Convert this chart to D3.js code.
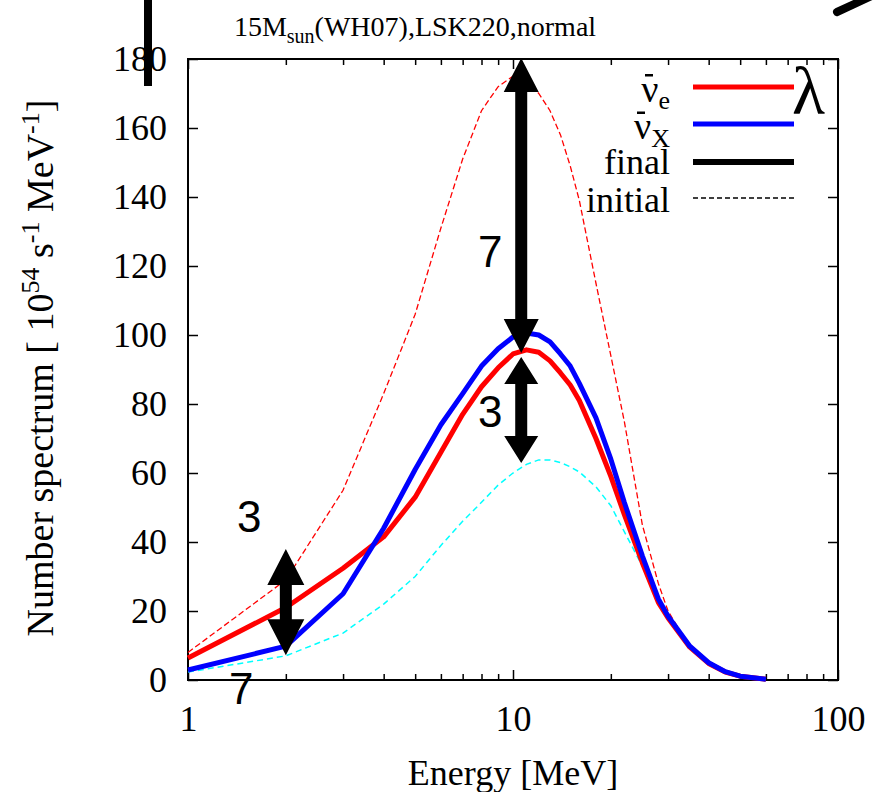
<!DOCTYPE html>
<html><head><meta charset="utf-8">
<script src="https://cdn.jsdelivr.net/npm/d3@7"></script>
<style>body{margin:0;background:#fff}svg{display:block}
.serif{font-family:"Liberation Serif","Times New Roman",serif}
.sans{font-family:"Liberation Sans",Arial,sans-serif}
</style>
</head><body>
<svg id="c" width="883" height="792"></svg>
<script>
// ---- data ----
const energy = [1,2,3,4,5,6,7,8,9,10,11,12,13,14,15,16,18,20,22,25,28,30,35,40,45,50,60];
const antiNueFinal   = [6.4,21,32.4,41.5,53,66,77,85,90.5,94.5,95.7,95,92.5,89,85.5,81,70,59,48,34,22.5,18,9.5,4.8,2.3,1.1,0.2];
const antiNuxFinal   = [2.9,9.8,25,44,61,74,83,91,96,99.4,100.6,100,98,94.5,91,86,76,64,51.5,36,23.5,18.5,9.8,5,2.4,1.1,0.2];
const antiNueInitial = [8,29,55,83,106,131,151,165,172,175,174,170,165,158,149,139,115,94,75,45,28,20,9.5,4.5,2.1,1,0.2];
const antiNuxInitial = [2.3,7,13.6,22,30,39,46,51.5,56.5,60,62.5,63.8,63.8,63,61.8,60.3,56,50.5,43,33,24,19,10,5,2.4,1.1,0.2];
const xMajorTicks = [1,10,100];
const yTicks = [0,20,40,60,80,100,120,140,160,180];
// annotation arrows (energy, from value, to value) and labels
const arrowE    = [10.6, 10.6, 2.0];
const arrowFrom = [180.3, 93.6, 38];
const arrowTo   = [94.8, 62.9, 7.2];
const noteText  = ["7","3","3","7"];

const svg = d3.select("#c");
const L=188, R=838, T=59, B=680;
const x = d3.scaleLog().domain([1,100]).range([L,R]);
const y = d3.scaleLinear().domain([0,180]).range([B,T]);

const minors = [];
[1,10].forEach(d=>{for(let k=2;k<=9;k++) minors.push(d*k);});

// axes
function styleAxis(g){ g.attr("font-family",null).attr("font-size",null);
  g.select(".domain").remove(); g.selectAll("line").attr("stroke","#000").attr("stroke-width",1.5); }
function styleLabels(sel){ sel.attr("class","serif").style("font-size","36px").attr("fill","#000"); }
svg.append("g").attr("transform",`translate(0,${B})`)
  .call(d3.axisBottom(x).tickValues(xMajorTicks).tickSize(-10).tickPadding(25).tickFormat(d3.format("d")))
  .call(styleAxis).selectAll("text").call(styleLabels);
svg.append("g").attr("transform",`translate(0,${B})`)
  .call(d3.axisBottom(x).tickValues(minors).tickSize(-6).tickFormat("")).call(styleAxis);
svg.append("g").attr("transform",`translate(0,${T})`)
  .call(d3.axisTop(x).tickValues(xMajorTicks).tickSize(-10).tickFormat("")).call(styleAxis);
svg.append("g").attr("transform",`translate(0,${T})`)
  .call(d3.axisTop(x).tickValues(minors).tickSize(-6).tickFormat("")).call(styleAxis);
svg.append("g").attr("transform",`translate(${L},0)`)
  .call(d3.axisLeft(y).tickValues(yTicks).tickSize(-10).tickPadding(21))
  .call(styleAxis).selectAll("text").call(styleLabels);
svg.append("g").attr("transform",`translate(${R},0)`)
  .call(d3.axisRight(y).tickValues(yTicks).tickSize(-10).tickFormat("")).call(styleAxis);

svg.append("rect").attr("x",L).attr("y",T).attr("width",R-L).attr("height",B-T)
  .attr("fill","none").attr("stroke","#000").attr("stroke-width",2);

// lines
const line = d3.line().x((d,i)=>x(energy[i])).y(d=>y(d));
svg.append("path").datum(antiNuxInitial).attr("d",line).attr("fill","none")
  .attr("stroke","#00ffff").attr("stroke-width",1.5).attr("stroke-dasharray","6,4");
svg.append("path").datum(antiNueInitial).attr("d",line).attr("fill","none")
  .attr("stroke","#ff0000").attr("stroke-width",1.3).attr("stroke-dasharray","6,3");
svg.append("path").datum(antiNueFinal).attr("d",line).attr("fill","none")
  .attr("stroke","#ff0000").attr("stroke-width",5).attr("stroke-linejoin","round");
svg.append("path").datum(antiNuxFinal).attr("d",line).attr("fill","none")
  .attr("stroke","#0000ff").attr("stroke-width",5).attr("stroke-linejoin","round");

// legend
const lg = svg.append("g");
const legY = [87,124,162,198];
const legStyle = [
  {c:"#ff0000",w:5,d:null},{c:"#0000ff",w:5,d:null},{c:"#000",w:6,d:null},{c:"#000",w:1.3,d:"5,3"}];
legStyle.forEach((s,i)=>{
  lg.append("line").attr("x1",693).attr("x2",794).attr("y1",legY[i]).attr("y2",legY[i])
    .attr("stroke",s.c).attr("stroke-width",s.w).attr("stroke-dasharray",s.d);
});
const t1 = lg.append("text").attr("x",670).attr("y",102).attr("text-anchor","end").attr("class","serif").style("font-size","38px");
t1.append("tspan").text("ν");
t1.append("tspan").style("font-size","26px").attr("dy",7).text("e");
lg.append("rect").attr("x",645).attr("y",74).attr("width",8).attr("height",2.5).attr("fill","#000");
const t2 = lg.append("text").attr("x",670).attr("y",139).attr("text-anchor","end").attr("class","serif").style("font-size","38px");
t2.append("tspan").text("ν");
t2.append("tspan").style("font-size","26px").attr("dy",8).text("X");
lg.append("rect").attr("x",637).attr("y",111.5).attr("width",8).attr("height",2.5).attr("fill","#000");
lg.append("text").attr("x",670).attr("y",174).attr("text-anchor","end").attr("class","serif").style("font-size","36px").text("final");
lg.append("text").attr("x",670).attr("y",212).attr("text-anchor","end").attr("class","serif").style("font-size","36px").text("initial");

// title
const tt = svg.append("text").attr("x",415).attr("y",36).attr("text-anchor","middle").attr("class","serif").style("font-size","28px");
tt.append("tspan").text("15M");
tt.append("tspan").style("font-size","20px").attr("dy",7).text("sun");
tt.append("tspan").attr("dy",-7).text("(WH07),LSK220,normal");

// axis titles
svg.append("text").attr("x",513).attr("y",785).attr("text-anchor","middle").attr("class","serif").style("font-size","36px").text("Energy [MeV]");
const yl = svg.append("text").attr("transform","translate(53,368) rotate(-90)").attr("text-anchor","middle")
  .attr("class","serif").style("font-size","38px");
yl.append("tspan").text("Number spectrum [ 10");
yl.append("tspan").style("font-size","26px").attr("dy",-14).text("54");
yl.append("tspan").attr("dy",14).text(" s");
yl.append("tspan").style("font-size","26px").attr("dy",-14).text("-1");
yl.append("tspan").attr("dy",14).text(" MeV");
yl.append("tspan").style("font-size","26px").attr("dy",-14).text("-1");
yl.append("tspan").attr("dy",14).text("]");

// arrows
function dblArrow(xc, y1, y2, hl, hw, sw){
  return `M${xc},${y1} L${xc+hw},${y1+hl} L${xc+sw},${y1+hl} L${xc+sw},${y2-hl} L${xc+hw},${y2-hl} L${xc},${y2} L${xc-hw},${y2-hl} L${xc-sw},${y2-hl} L${xc-sw},${y1+hl} L${xc-hw},${y1+hl} Z`;
}
const arrowHead = [[34,17.5],[27,17],[36,18.5]];
arrowE.forEach((e,i)=>{
  svg.append("path").attr("d",dblArrow(x(e), y(arrowFrom[i]), y(arrowTo[i]), arrowHead[i][0], arrowHead[i][1], 6)).attr("fill","#000");
});
const notePos = [[478,267],[478,427],[237,532],[229,704]];
noteText.forEach((t,i)=>{
  svg.append("text").attr("x",notePos[i][0]).attr("y",notePos[i][1]).attr("class","sans").style("font-size","44px").attr("fill","#000").text(t);
});

// extra marks in the picture
svg.append("text").attr("x",792).attr("y",114).attr("class","serif").style("font-size","68px").text("λ");
svg.append("rect").attr("x",144).attr("y",0).attr("width",8).attr("height",86).attr("fill","#000");
svg.append("line").attr("x1",837).attr("y1",12).attr("x2",878).attr("y2",-7).attr("stroke","#000").attr("stroke-width",8).attr("stroke-linecap","round");
</script>
</body></html>
